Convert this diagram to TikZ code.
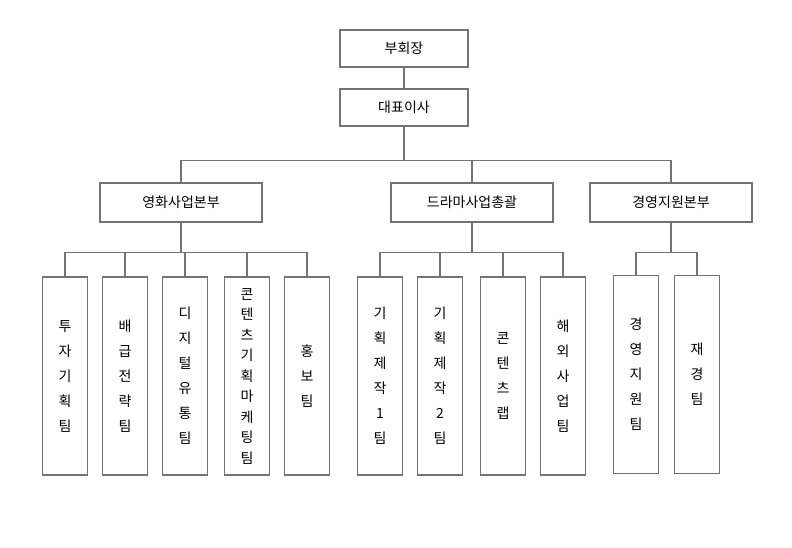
\documentclass[tikz,border=0pt]{standalone}
\usepackage{fontspec}
\setmainfont{Noto Sans CJK KR}
\usetikzlibrary{positioning}
\tikzstyle{boite}=[draw=gray!90!black, line width=1.5pt, inner sep=0pt, font=\fontsize{14}{16}\selectfont]
\tikzstyle{tete}=[boite, minimum width=128pt, minimum height=37pt]
\tikzstyle{chef}=[boite, minimum width=162pt, minimum height=39pt]
\tikzstyle{equipe}=[boite, minimum width=45pt, minimum height=198pt, align=center, font=\fontsize{14}{25}\selectfont]
\tikzstyle{serre}=[font=\fontsize{14}{20.5}\selectfont]
\tikzstyle{lien}=[gray!90!black, line width=1.5pt]
\begin{document}
\begin{tikzpicture}[x=1pt,y=-1pt]
\useasboundingbox (0,0) rectangle (792,548);
\node[tete] (vp) at (404,48.5) {부회장};
\node[tete] (ceo) at (404,107.5) {대표이사};
\node[chef] (film) at (181,202.5) {영화사업본부};
\node[chef] (drama) at (472,202.5) {드라마사업총괄};
\node[chef] (gest) at (671,202.5) {경영지원본부};
% equipes
\node[equipe] (f1) at (65,376) {투\\자\\기\\획\\팀};
\node[equipe] (f2) at (125,376) {배\\급\\전\\략\\팀};
\node[equipe] (f3) at (185,376) {디\\지\\털\\유\\통\\팀};
\node[equipe,serre] (f4) at (247,376) {콘\\텐\\츠\\기\\획\\마\\케\\팅\\팀};
\node[equipe] (f5) at (307,376) {홍\\보\\팀};
\node[equipe] (d1) at (380,376) {기\\획\\제\\작\\1\\팀};
\node[equipe] (d2) at (440,376) {기\\획\\제\\작\\2\\팀};
\node[equipe] (d3) at (503,376) {콘\\텐\\츠\\랩};
\node[equipe] (d4) at (563,376) {해\\외\\사\\업\\팀};
\node[equipe] (g1) at (636,374.5) {경\\영\\지\\원\\팀};
\node[equipe] (g2) at (697,374.5) {재\\경\\팀};
% liens
\draw[lien] (vp) -- (ceo);
\draw[lien] (ceo.south) -- ++(0,34) coordinate (bus);
\foreach \N in {film,drama,gest}
  \draw[lien] (\N.north) |- (bus);
\foreach \C/\L in {film/{f1,f2,f3,f4,f5},drama/{d1,d2,d3,d4},gest/{g1,g2}}{
  \draw[lien] (\C.south) -- ++(0,29.5) coordinate (b\C);
  \foreach \E in \L
    \draw[lien] (\E.north) |- (b\C);
}
\end{tikzpicture}
\end{document}
